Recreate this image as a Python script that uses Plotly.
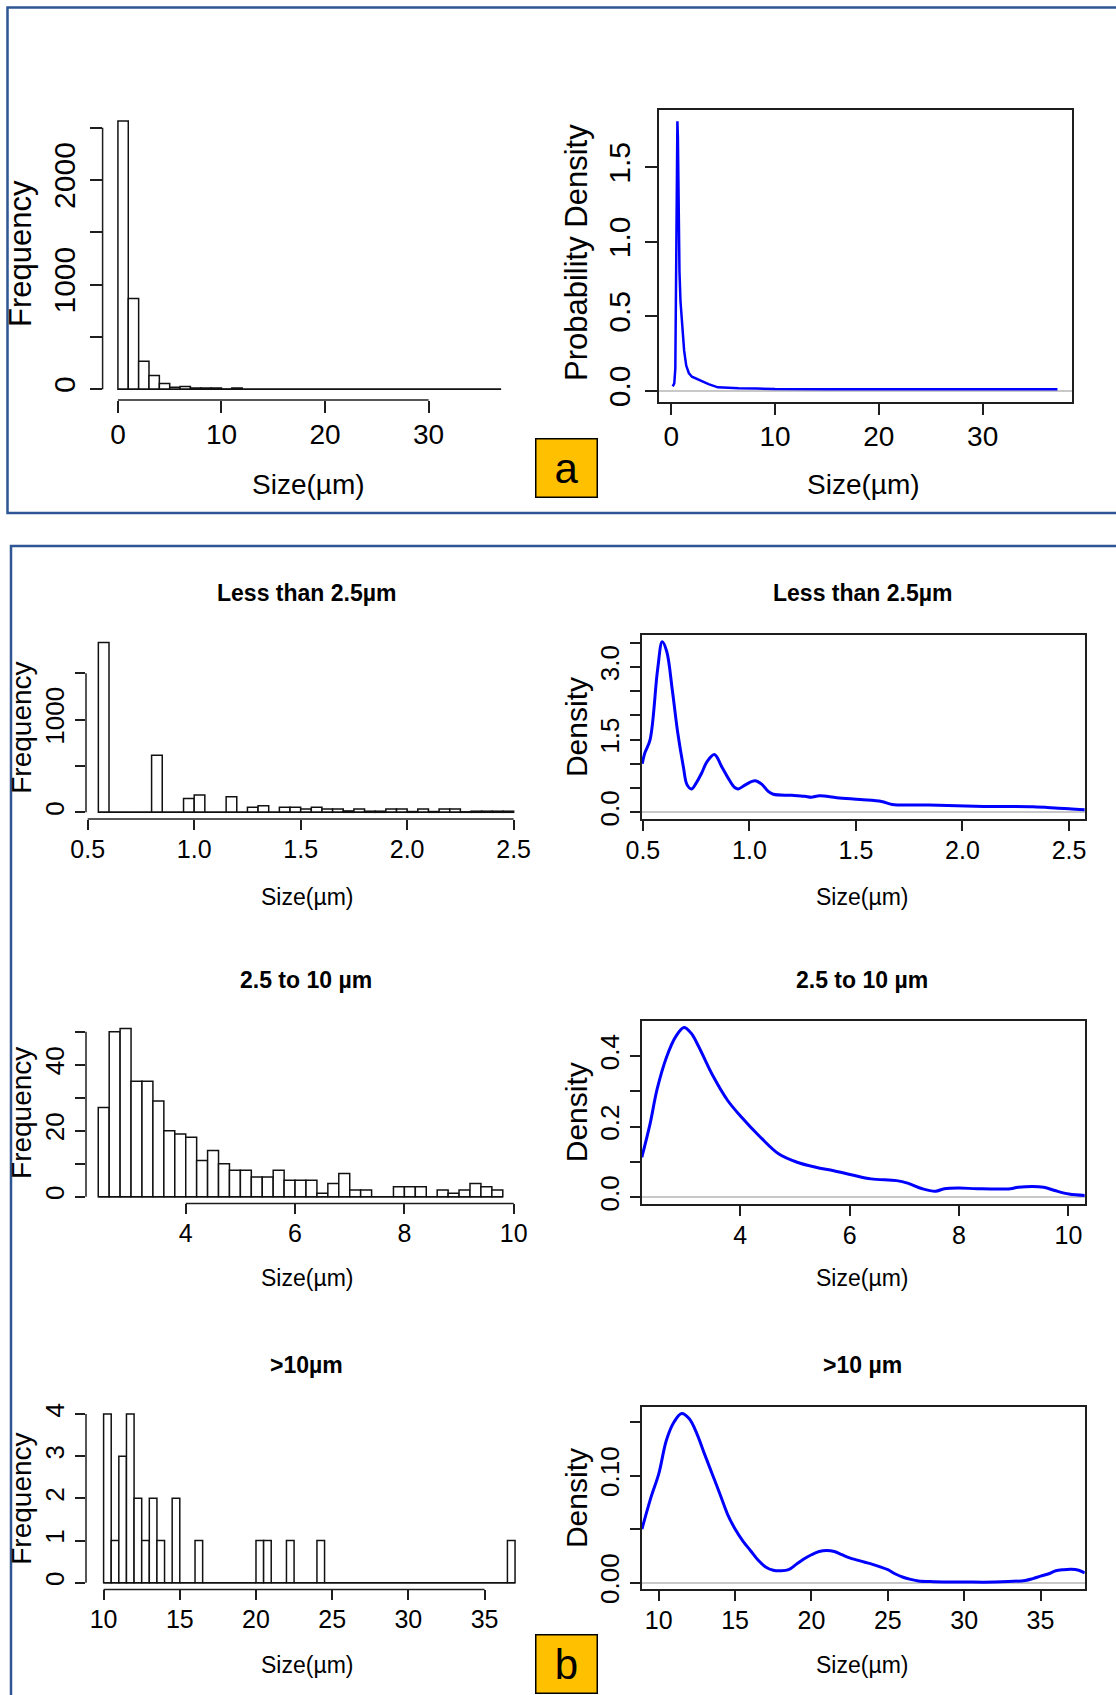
import plotly.graph_objects as go

# ---------------- data ----------------
# (a) all particles: histogram with 1 µm bins starting at 0
a_bin_start = 0.0
a_bin_width = 1.0
a_counts = [2564, 868, 269, 131, 54, 19, 26, 12, 12, 12, 2, 13,
            0, 0, 0, 0, 0, 0, 0, 0, 0, 0, 0, 0, 0, 0, 0, 0, 0, 0,
            0, 0, 0, 0, 0, 0, 0]
# (a) kernel density of all particles
a_dens_x = [0.15, 0.3, 0.4, 0.45, 0.5, 0.55, 0.6, 0.65, 0.7, 0.75, 0.8, 0.9,
            1.0, 1.1, 1.25, 1.45, 1.7, 2.0, 2.5, 3.0, 3.6, 4.5, 5.5, 6.5,
            8.2, 10, 15, 20, 25, 30, 35, 37.2]
a_dens_y = [0.03, 0.05, 0.15, 0.5, 1.3, 1.7, 1.81, 1.7, 1.4, 0.95, 0.8, 0.6,
            0.5, 0.42, 0.27, 0.17, 0.12, 0.095, 0.08, 0.065, 0.045, 0.024,
            0.02, 0.018, 0.016, 0.012, 0.011, 0.011, 0.011, 0.011, 0.011, 0.011]

# (b) less than 2.5 µm: 0.05 µm bins from 0.55
b1_bin_start = 0.55
b1_bin_width = 0.05
b1_counts = [1833, 0, 0, 0, 0, 616, 0, 0, 150, 186, 0, 0, 168, 0, 54, 72, 0,
             54, 54, 36, 54, 36, 36, 15, 36, 12, 12, 36, 36, 8, 36, 8, 36, 36,
             5, 12, 12, 12, 12]
b1_dens_x = [0.497, 0.509, 0.534, 0.569, 0.591, 0.612, 0.638, 0.664, 0.690,
             0.707, 0.728, 0.750, 0.776, 0.802, 0.836, 0.870, 0.905, 0.931,
             0.948, 0.983, 1.026, 1.060, 1.086, 1.112, 1.20, 1.26, 1.29, 1.33,
             1.41, 1.52, 1.62, 1.67, 1.80, 1.93, 2.10, 2.33, 2.45, 2.50, 2.574]
b1_dens_y = [1.00, 1.22, 1.50, 2.94, 3.52, 3.32, 2.53, 1.63, 0.94, 0.57, 0.48,
             0.60, 0.81, 1.05, 1.19, 0.94, 0.67, 0.51, 0.48, 0.57, 0.65, 0.57,
             0.44, 0.37, 0.35, 0.33, 0.31, 0.34, 0.30, 0.26, 0.22, 0.16, 0.15,
             0.14, 0.12, 0.11, 0.08, 0.07, 0.05]

# (b) 2.5 to 10 µm: 0.2 µm bins from 2.4
b2_bin_start = 2.4
b2_bin_width = 0.2
b2_counts = [27, 50, 51, 35, 35, 29, 20, 19, 18, 11, 14, 10, 8, 8, 6, 6, 8, 5,
             5, 5, 1, 4, 7, 2, 2, 0, 0, 3, 3, 3, 0, 2, 1, 2, 4, 3, 2]
b2_dens_x = [2.2, 2.35, 2.48, 2.65, 2.82, 2.97, 3.1, 3.23, 3.5, 3.77, 4.0,
             4.37, 4.7, 5.04, 5.38, 5.71, 6.05, 6.39, 6.86, 7.06, 7.33, 7.57,
             7.73, 8.0, 8.34, 8.94, 9.08, 9.55, 9.75, 10.01, 10.3]
b2_dens_y = [0.113, 0.207, 0.306, 0.396, 0.455, 0.481, 0.465, 0.43, 0.344,
             0.274, 0.231, 0.17, 0.123, 0.099, 0.085, 0.075, 0.063, 0.052,
             0.047, 0.04, 0.024, 0.017, 0.024, 0.026, 0.024, 0.024, 0.028,
             0.028, 0.019, 0.009, 0.005]

# (b) greater than 10 µm: 0.5 µm bins from 10
b3_bin_start = 10.0
b3_bin_width = 0.5
b3_counts = [4, 1, 3, 4, 2, 1, 2, 1, 0, 2, 0, 0, 1, 0, 0, 0, 0, 0, 0, 0,
             1, 1, 0, 0, 1, 0, 0, 0, 1,
             0, 0, 0, 0, 0, 0, 0, 0, 0, 0, 0, 0, 0, 0, 0, 0, 0, 0, 0, 0,
             0, 0, 0, 0, 1]
b3_dens_x = [8.9, 9.5, 10, 10.5, 11, 11.5, 12, 12.5, 13, 13.5, 14, 14.5, 15,
             15.5, 16, 16.5, 17, 17.5, 18, 18.5, 19, 19.5, 20, 20.5, 21, 21.5,
             22, 22.5, 23, 23.5, 24, 24.5, 25, 25.5, 26, 26.5, 27, 28, 30, 32,
             34, 34.5, 35, 35.5, 36, 36.5, 37, 37.5, 37.9]
b3_dens_y = [0.05, 0.08, 0.1015, 0.133, 0.15, 0.158, 0.153, 0.139, 0.12,
             0.1015, 0.083, 0.064, 0.05, 0.039, 0.03, 0.021, 0.0146, 0.0115,
             0.011, 0.012, 0.017, 0.022, 0.026, 0.029, 0.030, 0.029, 0.026,
             0.023, 0.021, 0.019, 0.017, 0.0146, 0.012, 0.008, 0.005, 0.003,
             0.0015, 0.0008, 0.0005, 0.0005, 0.002, 0.0037, 0.006, 0.008,
             0.011, 0.012, 0.0124, 0.0115, 0.009]

# tick values and labels
a_hist_xt = [0, 10, 20, 30]
a_hist_yt = [0, 500, 1000, 1500, 2000, 2500]
a_hist_yl = ["0", "", "1000", "", "2000", ""]
a_dens_xt = [0, 10, 20, 30]
a_dens_yt = [0, 0.5, 1.0, 1.5]
a_dens_yl = ["0.0", "0.5", "1.0", "1.5"]
b1_xt = [0.5, 1.0, 1.5, 2.0, 2.5]
b1_xl = ["0.5", "1.0", "1.5", "2.0", "2.5"]
b1_hist_yt = [0, 500, 1000, 1500]
b1_hist_yl = ["0", "", "1000", ""]
b1_dens_yt = [0, 0.5, 1.0, 1.5, 2.0, 2.5, 3.0, 3.5]
b1_dens_yl = ["0.0", "", "", "1.5", "", "", "3.0", ""]
b2_xt = [4, 6, 8, 10]
b2_hist_yt = [0, 10, 20, 30, 40, 50]
b2_hist_yl = ["0", "", "20", "", "40", ""]
b2_dens_yt = [0, 0.1, 0.2, 0.3, 0.4]
b2_dens_yl = ["0.0", "", "0.2", "", "0.4"]
b3_xt = [10, 15, 20, 25, 30, 35]
b3_hist_yt = [0, 1, 2, 3, 4]
b3_dens_yt = [0, 0.05, 0.10, 0.15]
b3_dens_yl = ["0.00", "", "0.10", ""]

titles_b = ["Less than 2.5µm", "Less than 2.5µm", "2.5 to 10 µm",
            "2.5 to 10 µm", ">10µm", ">10 µm"]

# ---------------- layout helpers ----------------
W, H = 1116, 1695
FONT = "Liberation Sans, Arial, sans-serif"
NARROW = "Liberation Sans Narrow, Arial Narrow, Liberation Sans, Arial, sans-serif"
AX = "#1e1e1e"
BLUE = "#0000FF"


def px(p):
    return p / W


def py(p):
    return 1 - p / H


fig = go.Figure()
layout = {}
shapes = []
annotations = []


def add_axes(n, xdom, ydom, xr, yr, xt, xl, yt, yl, big, boxed):
    xs = "xaxis" if n == 1 else f"xaxis{n}"
    ys = "yaxis" if n == 1 else f"yaxis{n}"
    xid = "x" if n == 1 else f"x{n}"
    yid = "y" if n == 1 else f"y{n}"
    tlen = 12 if big else 10
    xfont = dict(family=FONT if big else NARROW, size=28 if big else 25, color="#000")
    yfont = dict(family=FONT if big else NARROW, size=30 if big else 26, color="#000")
    common = dict(showgrid=False, ticks="outside", ticklen=tlen, tickwidth=1.5,
                  tickcolor=AX, fixedrange=True, automargin=False)
    layout[xs] = dict(common, domain=[px(xdom[0]), px(xdom[1])], range=xr,
                      anchor=yid, tickmode="array", tickvals=xt, ticktext=xl,
                      tickfont=xfont, tickangle=0, zeroline=False,
                      showline=boxed, mirror=boxed, linecolor=AX, linewidth=1.5,
                      ticklabelstandoff=-3 if big else -2)
    layout[ys] = dict(common, domain=[py(ydom[1]), py(ydom[0])], range=yr,
                      anchor=xid, tickmode="array", tickvals=yt, ticktext=yl,
                      tickfont=yfont, tickangle=-90,
                      zeroline=boxed, zerolinecolor="#C8C8C8", zerolinewidth=2,
                      showline=boxed, mirror=boxed, linecolor=AX, linewidth=1.5,
                      ticklabelstandoff=3 if big else 1)
    if not boxed:
        # R-style axis lines spanning only from the first to the last tick
        shapes.append(dict(type="line", xref=xid, yref=f"{yid} domain",
                           x0=xt[0], x1=xt[-1], y0=0, y1=0,
                           line=dict(color=AX, width=1.5)))
        shapes.append(dict(type="line", xref=f"{xid} domain", yref=yid,
                           x0=0, x1=0, y0=yt[0], y1=yt[-1],
                           line=dict(color=AX, width=1.5)))
    return xid, yid


def add_hist(xid, yid, start, width, counts):
    centers = [start + width * (i + 0.5) for i in range(len(counts))]
    edges = [start, start + width * len(counts)]
    fig.add_trace(go.Scatter(x=edges, y=[0, 0], mode="lines", xaxis=xid,
                             yaxis=yid, line=dict(color="#111", width=1.5),
                             hoverinfo="skip", showlegend=False))
    fig.add_trace(go.Bar(x=centers, y=counts, width=width, xaxis=xid, yaxis=yid,
                         marker=dict(color="white",
                                     line=dict(color="#111", width=1.5)),
                         showlegend=False))


def add_dens(xid, yid, xs, ys, lw, shape):
    fig.add_trace(go.Scatter(x=xs, y=ys, mode="lines", xaxis=xid, yaxis=yid,
                             line=dict(color=BLUE, width=lw, shape=shape),
                             showlegend=False))


def label(text, x, y, size, family, angle=0):
    annotations.append(dict(text=text, x=px(x), y=py(y), xref="paper",
                            yref="paper", showarrow=False, xanchor="center",
                            yanchor="middle", textangle=angle,
                            font=dict(family=family, size=size, color="#000")))


# ---------------- panel a ----------------
xid, yid = add_axes(1, (102.6, 516.4), (110.3, 400.0), [-1.48, 38.48],
                    [-102.6, 2666.6], a_hist_xt, [str(v) for v in a_hist_xt],
                    a_hist_yt, a_hist_yl, True, False)
add_hist(xid, yid, a_bin_start, a_bin_width, a_counts)

xid, yid = add_axes(2, (658.7, 1072.0), (110.0, 401.7), [-1.2, 38.6],
                    [-0.0725, 1.885], a_dens_xt, [str(v) for v in a_dens_xt],
                    a_dens_yt, a_dens_yl, True, True)
add_dens(xid, yid, a_dens_x, a_dens_y, 2.5, "linear")

label("Frequency", 20.5, 253.5, 31, FONT, -90)
label("Size(µm)", 308.6, 485, 28, FONT)
label("Probability Density", 576, 253, 31, FONT, -90)
label("Size(µm)", 863.3, 485, 28, FONT)

# ---------------- panel b ----------------
rows = [
    dict(hist=((86, 523), (635.6, 819.1), [0.492, 2.544], [-73.3, 1906.3]),
         dens=((641.8, 1084.8), (635.0, 819.0), [0.495, 2.574], [-0.1408, 3.661]),
         xt=b1_xt, xl=b1_xl, hyt=b1_hist_yt, hyl=b1_hist_yl,
         dyt=b1_dens_yt, dyl=b1_dens_yl,
         hist_data=(b1_bin_start, b1_bin_width, b1_counts),
         dens_data=(b1_dens_x, b1_dens_y),
         title_y=593.3, xlab_y=896.7),
    dict(hist=((86, 518.1), (1021.7, 1203.4), [2.176, 10.08], [-2.04, 53.04]),
         dens=((641.8, 1084.8), (1021.0, 1204.0), [2.2, 10.3], [-0.0192, 0.4992]),
         xt=b2_xt, xl=[str(v) for v in b2_xt], hyt=b2_hist_yt, hyl=b2_hist_yl,
         dyt=b2_dens_yt, dyl=b2_dens_yl,
         hist_data=(b2_bin_start, b2_bin_width, b2_counts),
         dens_data=(b2_dens_x, b2_dens_y),
         title_y=980, xlab_y=1278),
    dict(hist=((86, 531.5), (1407.3, 1589.4), [8.845, 38.08], [-0.16, 4.16]),
         dens=((641.8, 1084.8), (1406.7, 1589.3), [8.89, 37.9], [-0.0063, 0.1643]),
         xt=b3_xt, xl=[str(v) for v in b3_xt], hyt=b3_hist_yt,
         hyl=[str(v) for v in b3_hist_yt],
         dyt=b3_dens_yt, dyl=b3_dens_yl,
         hist_data=(b3_bin_start, b3_bin_width, b3_counts),
         dens_data=(b3_dens_x, b3_dens_y),
         title_y=1365, xlab_y=1665),
]

n = 3
for k, r in enumerate(rows):
    (hx, hy, hxr, hyr) = r["hist"]
    xid, yid = add_axes(n, hx, hy, hxr, hyr, r["xt"], r["xl"], r["hyt"],
                        r["hyl"], False, False)
    add_hist(xid, yid, *r["hist_data"])
    n += 1
    (dx, dy, dxr, dyr) = r["dens"]
    xid, yid = add_axes(n, dx, dy, dxr, dyr, r["xt"], r["xl"], r["dyt"],
                        r["dyl"], False, True)
    add_dens(xid, yid, *r["dens_data"], 3, "spline")
    n += 1

    cy = (hy[0] + hy[1]) / 2
    label(f"<b>{titles_b[2 * k]}</b>", 306, r["title_y"], 23, NARROW)
    label(f"<b>{titles_b[2 * k + 1]}</b>", 862.4, r["title_y"], 23, NARROW)
    label("Frequency", 21.4, cy, 28, NARROW, -90)
    label("Density", 576.7, cy, 30, NARROW, -90)
    label("Size(µm)", 307, r["xlab_y"], 23, NARROW)
    label("Size(µm)", 862.4, r["xlab_y"], 23, NARROW)

# ---------------- frames and panel tags ----------------
FRAME = "#2E5594"
shapes.append(dict(type="rect", xref="paper", yref="paper",
                   x0=px(7.5), x1=px(1125), y0=py(513), y1=py(7.5),
                   line=dict(color=FRAME, width=2.5), layer="below"))
shapes.append(dict(type="rect", xref="paper", yref="paper",
                   x0=px(11), x1=px(1125), y0=py(1705), y1=py(546),
                   line=dict(color=FRAME, width=2.5), layer="below"))

for tag, cy in (("a", 468), ("b", 1663.5)):
    annotations.append(dict(text=tag, x=px(566), y=py(cy), xref="paper",
                            yref="paper", showarrow=False, xanchor="center",
                            yanchor="middle", width=60, height=57,
                            bgcolor="#FFC000", bordercolor="#000",
                            borderwidth=1.5, borderpad=0,
                            font=dict(family=FONT, size=42, color="#000")))

fig.update_layout(**layout)
fig.update_layout(width=W, height=H, autosize=False,
                  margin=dict(l=0, r=0, t=0, b=0, pad=0, autoexpand=False),
                  paper_bgcolor="white", plot_bgcolor="white",
                  barmode="overlay", showlegend=False,
                  shapes=shapes, annotations=annotations)

# page without body margin so the figure fills the window exactly
fig.write_html("out.html", config={"displayModeBar": False},
               post_script="document.body.style.margin='0';"
                           "document.body.style.overflow='hidden';")
